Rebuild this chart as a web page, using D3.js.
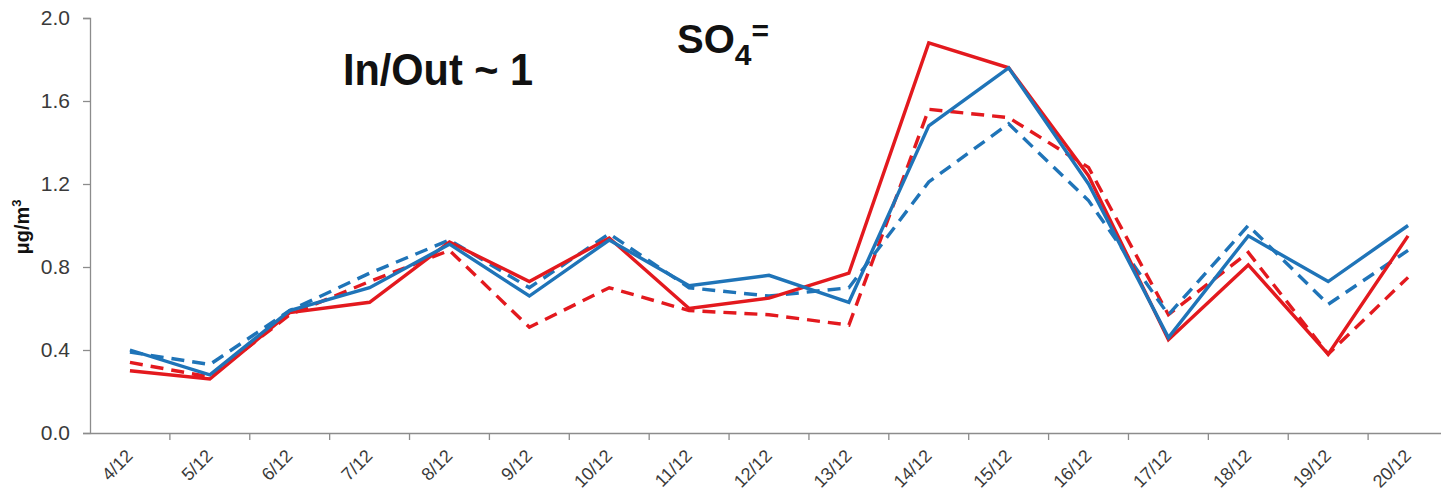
<!DOCTYPE html>
<html>
<head>
<meta charset="utf-8">
<script src="https://cdn.jsdelivr.net/npm/d3@7"></script>
<style>
  html, body { margin: 0; padding: 0; background: #fff; }
  svg { display: block; font-family: Arial, "Liberation Sans", sans-serif; }
</style>
</head>
<body>
<svg id="chart" width="1441" height="495"></svg>
<script>
// Daily sulphate concentrations, indoor vs outdoor, two sites
const days = ["4/12","5/12","6/12","7/12","8/12","9/12","10/12","11/12","12/12","13/12","14/12","15/12","16/12","17/12","18/12","19/12","20/12"];
const redSolid   = [0.30, 0.26, 0.58, 0.63, 0.92, 0.73, 0.94, 0.60, 0.65, 0.77, 1.88, 1.76, 1.24, 0.45, 0.81, 0.38, 0.95];
const redDashed  = [0.34, 0.27, 0.57, 0.73, 0.88, 0.51, 0.70, 0.59, 0.57, 0.52, 1.56, 1.52, 1.28, 0.57, 0.87, 0.38, 0.75];
const blueSolid  = [0.40, 0.28, 0.59, 0.70, 0.91, 0.66, 0.93, 0.71, 0.76, 0.63, 1.48, 1.76, 1.20, 0.46, 0.95, 0.73, 1.00];
const blueDashed = [0.39, 0.33, 0.59, 0.77, 0.93, 0.70, 0.96, 0.70, 0.66, 0.70, 1.21, 1.49, 1.12, 0.57, 1.00, 0.62, 0.88];
const yTicks = [0.0, 0.4, 0.8, 1.2, 1.6, 2.0];

const series = [
  { values: redDashed,  color: "#e3191e", dash: "13,8" },
  { values: blueDashed, color: "#1f74b8", dash: "13,8" },
  { values: redSolid,   color: "#e3191e", dash: null },
  { values: blueSolid,  color: "#1f74b8", dash: null }
];

const svg = d3.select("#chart");
const plotLeft = 90, plotRight = 1448, plotTop = 18, plotBottom = 433;

const x = d3.scaleBand().domain(days).range([plotLeft, plotRight]).padding(0);
const y = d3.scaleLinear().domain([0, 2.0]).range([plotBottom, plotTop]);

const axisColor = "#8c8c8c";
const tickText = "#3a3a3a";

// Y axis
const yAxis = svg.append("g")
  .attr("transform", `translate(${plotLeft},0)`)
  .call(d3.axisLeft(y).tickValues(yTicks).tickFormat(d3.format(".1f")).tickSize(7).tickPadding(13));
yAxis.select(".domain").attr("stroke", axisColor).attr("stroke-width", 1.3);
yAxis.selectAll(".tick line").attr("stroke", axisColor).attr("stroke-width", 1.3);
yAxis.selectAll(".tick text").attr("fill", tickText).attr("font-size", 21);

// X axis: ticks sit on category boundaries
const xAxis = svg.append("g")
  .attr("transform", `translate(0,${plotBottom})`)
  .call(d3.axisBottom(x).tickSize(0).tickPadding(0));
xAxis.select(".domain").attr("stroke", axisColor).attr("stroke-width", 1.3);
xAxis.selectAll(".tick line").remove();
xAxis.selectAll(".tick text")
  .attr("fill", tickText)
  .attr("font-size", 18)
  .attr("text-anchor", "end")
  .attr("dy", null)
  .attr("transform", "translate(4,24) rotate(-45)");
xAxis.selectAll(".bound")
  .data(days.slice(1))
  .enter().append("line")
  .attr("x1", d => x(d)).attr("x2", d => x(d))
  .attr("y1", 0).attr("y2", 7)
  .attr("stroke", axisColor).attr("stroke-width", 1.3);

// Lines
const line = d3.line()
  .x((d, i) => x(days[i]) + x.bandwidth() / 2)
  .y(d => y(d));

svg.append("g").selectAll("path")
  .data(series)
  .enter().append("path")
  .attr("d", s => line(s.values))
  .attr("fill", "none")
  .attr("stroke", s => s.color)
  .attr("stroke-width", 3.4)
  .attr("stroke-linejoin", "miter")
  .attr("stroke-dasharray", s => s.dash);

// Y axis title
svg.append("text")
  .attr("transform", "translate(29,227) rotate(-90)")
  .attr("text-anchor", "middle")
  .attr("font-size", 20)
  .attr("font-weight", "bold")
  .attr("fill", "#111")
  .html('μg/m<tspan dy="-8" font-size="13">3</tspan>');

// Annotations
svg.append("text")
  .attr("x", 343).attr("y", 85)
  .attr("font-size", 44)
  .attr("font-weight", "bold")
  .attr("fill", "#111")
  .attr("textLength", 190)
  .attr("lengthAdjust", "spacingAndGlyphs")
  .text("In/Out ~ 1");

const so4 = svg.append("text")
  .attr("x", 677).attr("y", 53)
  .attr("font-size", 40)
  .attr("font-weight", "bold")
  .attr("fill", "#111");
so4.append("tspan").text("SO");
so4.append("tspan").attr("dy", 12).attr("font-size", 30).text("4");
so4.append("tspan").attr("dy", -24).attr("font-size", 30).text("=");
</script>
</body>
</html>
